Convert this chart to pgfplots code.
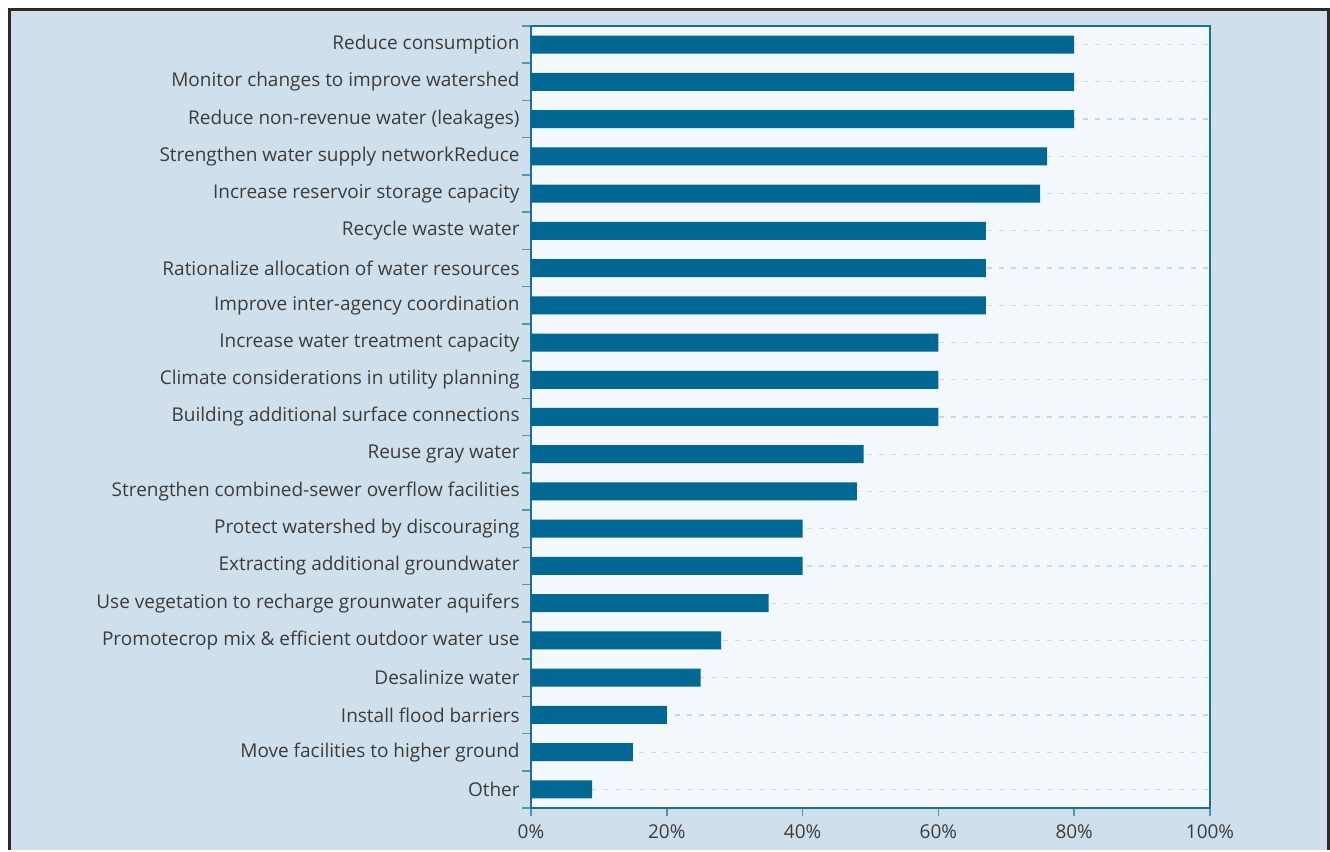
\documentclass[border=0pt]{standalone}
\usepackage{pgfplots}
\pgfplotsset{compat=1.18}
\usepackage{fontspec}
\setmainfont{Open Sans}
\definecolor{bgout}{HTML}{CFDFEB}
\definecolor{bgin}{HTML}{F2F8FC}
\definecolor{barc}{HTML}{006892}
\definecolor{axisc}{HTML}{1B6F92}
\definecolor{tickc}{HTML}{4A98B8}
\definecolor{gridc}{HTML}{C6DAE9}
\definecolor{txt}{HTML}{3C3C3C}
\definecolor{frame}{HTML}{2A2A2A}
\begin{document}
\begin{tikzpicture}[x=1pt,y=1pt]
\fill[white] (0,0) rectangle (665,425);
\fill[bgout] (4.85,0) rectangle (664.25,420.15);
\draw[line width=1.5pt, frame] (4.85,0) -- (4.85,420.15) -- (664.25,420.15) -- (664.25,0);
\begin{axis}[
  at={(265.5pt,21pt)}, anchor=south west,
  width=339.5pt, height=391pt, scale only axis,
  xbar, bar width=9pt,
  xmin=0, xmax=100, ymin=-0.5, ymax=20.5,
  axis background/.style={fill=bgin},
  axis line style={axisc, line width=0.75pt},
  xtick={0,20,40,60,80,100},
  xticklabels={0\%,20\%,40\%,60\%,80\%,100\%},
  ytick={0,...,20},
  yticklabels={Other,Move facilities to higher ground,Install flood barriers,Desalinize water,Promotecrop mix \& efficient outdoor water use,Use vegetation to recharge grounwater aquifers,Extracting additional groundwater,Protect watershed by discouraging,Strengthen combined-sewer overflow facilities,Reuse gray water,Building additional surface connections,Climate considerations in utility planning,Increase water treatment capacity,Improve inter-agency coordination,Rationalize allocation of water resources,Recycle waste water,Increase reservoir storage capacity,Strengthen water supply networkReduce,Reduce non-revenue water (leakages),Monitor changes to improve watershed,Reduce consumption},
  minor ytick={-0.5,0.5,...,20.5},
  xtick pos=bottom, ytick pos=left,
  tick align=outside,
  major tick length=4pt, minor tick length=4.5pt,
  every major y tick/.append style={draw=none},
  every tick/.append style={tickc, line width=0.75pt},
  ymajorgrids,
  major grid style={gridc, line width=0.6pt, dash pattern=on 2.5pt off 3.5pt},
  ticklabel style={font=\fontsize{9.5}{11}\selectfont, text=txt},
  yticklabel style={inner sep=0pt, xshift=-1.5pt},
  xticklabel style={inner sep=0pt, yshift=-4pt},
]
\addplot[fill=barc, draw=none] coordinates {
(9,0) (15,1) (20,2) (25,3) (28,4) (35,5) (40,6) (40,7) (48,8) (49,9)
(60,10) (60,11) (60,12) (67,13) (67,14) (67,15) (75,16) (76,17) (80,18) (80,19) (80,20)};
\end{axis}
\end{tikzpicture}
\end{document}
